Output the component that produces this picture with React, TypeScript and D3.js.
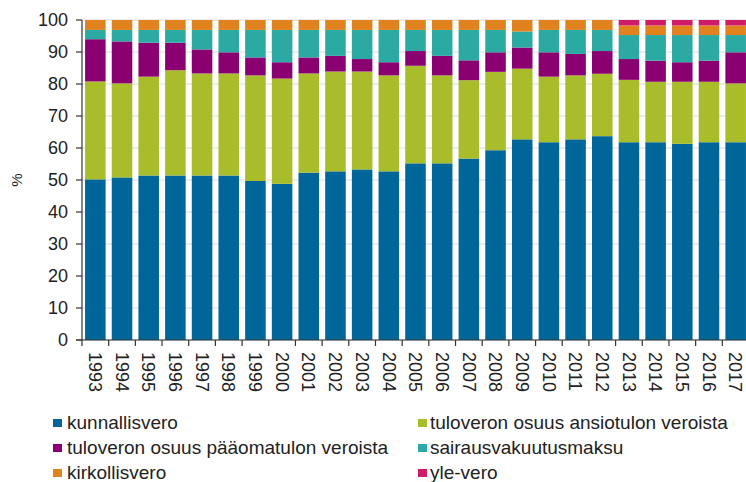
import React from "react";
import * as d3 from "d3";

const years = ["1993","1994","1995","1996","1997","1998","1999","2000","2001","2002","2003","2004","2005","2006","2007","2008","2009","2010","2011","2012","2013","2014","2015","2016","2017"];

const kunnallisvero = [50.2, 50.8, 51.4, 51.4, 51.4, 51.4, 49.7, 48.8, 52.3, 52.7, 53.3, 52.7, 55.2, 55.2, 56.7, 59.3, 62.7, 61.8, 62.7, 63.7, 61.8, 61.8, 61.3, 61.8, 61.8];
const ansiotulo = [30.6, 29.4, 30.9, 32.9, 31.9, 31.9, 33.0, 32.9, 31.0, 31.2, 30.6, 30.0, 30.5, 27.5, 24.5, 24.5, 22.1, 20.5, 20.0, 19.5, 19.5, 18.9, 19.4, 18.9, 18.4];
const paaomatulo = [13.2, 13.1, 10.6, 8.6, 7.5, 6.6, 5.6, 5.1, 5.0, 4.9, 3.9, 4.1, 4.6, 6.1, 6.2, 6.1, 6.6, 7.6, 6.7, 7.1, 6.5, 6.6, 6.1, 6.6, 9.7];
const sairausvakuutus = [2.9, 3.6, 4.0, 4.0, 6.1, 7.0, 8.6, 10.1, 8.6, 8.1, 9.1, 10.1, 6.6, 8.1, 9.5, 7.0, 5.0, 7.0, 7.5, 6.6, 7.5, 8.0, 8.5, 8.0, 5.4];
const kirkollisvero = [3.1, 3.1, 3.1, 3.1, 3.1, 3.1, 3.1, 3.1, 3.1, 3.1, 3.1, 3.1, 3.1, 3.1, 3.1, 3.1, 3.6, 3.1, 3.1, 3.1, 3.0, 3.0, 3.0, 3.0, 3.0];
const yleVero = [0, 0, 0, 0, 0, 0, 0, 0, 0, 0, 0, 0, 0, 0, 0, 0, 0, 0, 0, 0, 1.7, 1.7, 1.7, 1.7, 1.7];

const seriesNames = ["kunnallisvero", "tuloveron osuus ansiotulon veroista", "tuloveron osuus pääomatulon veroista", "sairausvakuutusmaksu", "kirkollisvero", "yle-vero"];
const seriesValues = [kunnallisvero, ansiotulo, paaomatulo, sairausvakuutus, kirkollisvero, yleVero];
const colors = ["#006699", "#a9bd2b", "#8b0071", "#2ba9a3", "#e0821e", "#cf1b6a"];
const yTicks = [0, 10, 20, 30, 40, 50, 60, 70, 80, 90, 100];

export default function App() {
  const W = 746, H = 482;
  const x0 = 82, x1 = 749, yTop = 20, yBot = 340;
  const keys = seriesNames.map((_, i) => "s" + i);
  const rows = years.map((yr, j) => {
    const r: any = { year: yr };
    keys.forEach((k, i) => (r[k] = seriesValues[i][j]));
    return r;
  });
  const stacked = d3.stack().keys(keys)(rows);
  const x = d3.scaleBand().domain(years).range([x0, x1]).paddingInner(0.23).paddingOuter(0.115);
  const y = d3.scaleLinear().domain([0, 100]).range([yBot, yTop]);
  const step = x.step();
  const font = "'Liberation Sans', Arial, sans-serif";
  const legendPos = [
    [53, 423], [418, 423],
    [53, 448], [418, 448],
    [53, 473], [418, 473],
  ];
  const legendTextX = [67, 430];

  return (
    <svg width={W} height={H} style={{ position: "absolute", left: 0, top: 0, background: "#fff" }} fontFamily={font}>
      {yTicks.map((t) => (
        <line key={"g" + t} x1={x0} x2={W} y1={y(t)} y2={y(t)} stroke="#d9d9d9" strokeWidth={1} />
      ))}
      {stacked.map((s, i) => (
        <g key={"s" + i} fill={colors[i]}>
          {s.map((d: any, j: number) =>
            d[1] - d[0] > 0 ? (
              <rect key={j} x={x(years[j])} width={x.bandwidth()} y={y(d[1])} height={y(d[0]) - y(d[1])} />
            ) : null
          )}
        </g>
      ))}
      {/* y axis */}
      <line x1={x0} x2={x0} y1={yTop} y2={yBot} stroke="#333" strokeWidth={1.2} />
      {yTicks.map((t) => (
        <g key={"yt" + t}>
          <line x1={x0 - 6} x2={x0} y1={y(t)} y2={y(t)} stroke="#333" strokeWidth={1.2} />
          <text x={x0 - 14} y={y(t)} dy="0.36em" textAnchor="end" fontSize={18} fill="#222">{t}</text>
        </g>
      ))}
      <text transform={`translate(17,180) rotate(-90)`} textAnchor="middle" dy="0.35em" fontSize={15} fill="#222">%</text>
      {/* x axis */}
      <line x1={x0 - 6} x2={W} y1={yBot} y2={yBot} stroke="#333" strokeWidth={1.2} />
      {years.map((yr, j) => (
        <line key={"xt" + yr} x1={x0 + j * step} x2={x0 + j * step} y1={yBot} y2={yBot + 6} stroke="#333" strokeWidth={1.2} />
      ))}
      {years.map((yr) => {
        const cx = (x(yr) as number) + x.bandwidth() / 2;
        return (
          <text key={"xl" + yr} transform={`translate(${cx},352) rotate(90)`} dy="0.35em" fontSize={18} fill="#222">{yr}</text>
        );
      })}
      {/* legend */}
      {seriesNames.map((n, i) => {
        const [lx, ly] = legendPos[i];
        const tx = legendTextX[i % 2];
        return (
          <g key={"l" + i}>
            <rect x={lx} y={ly - 4} width={9} height={8} fill={colors[i]} />
            <text x={tx} y={ly} dy="0.33em" fontSize={19} fill="#222">{n}</text>
          </g>
        );
      })}
    </svg>
  );
}
